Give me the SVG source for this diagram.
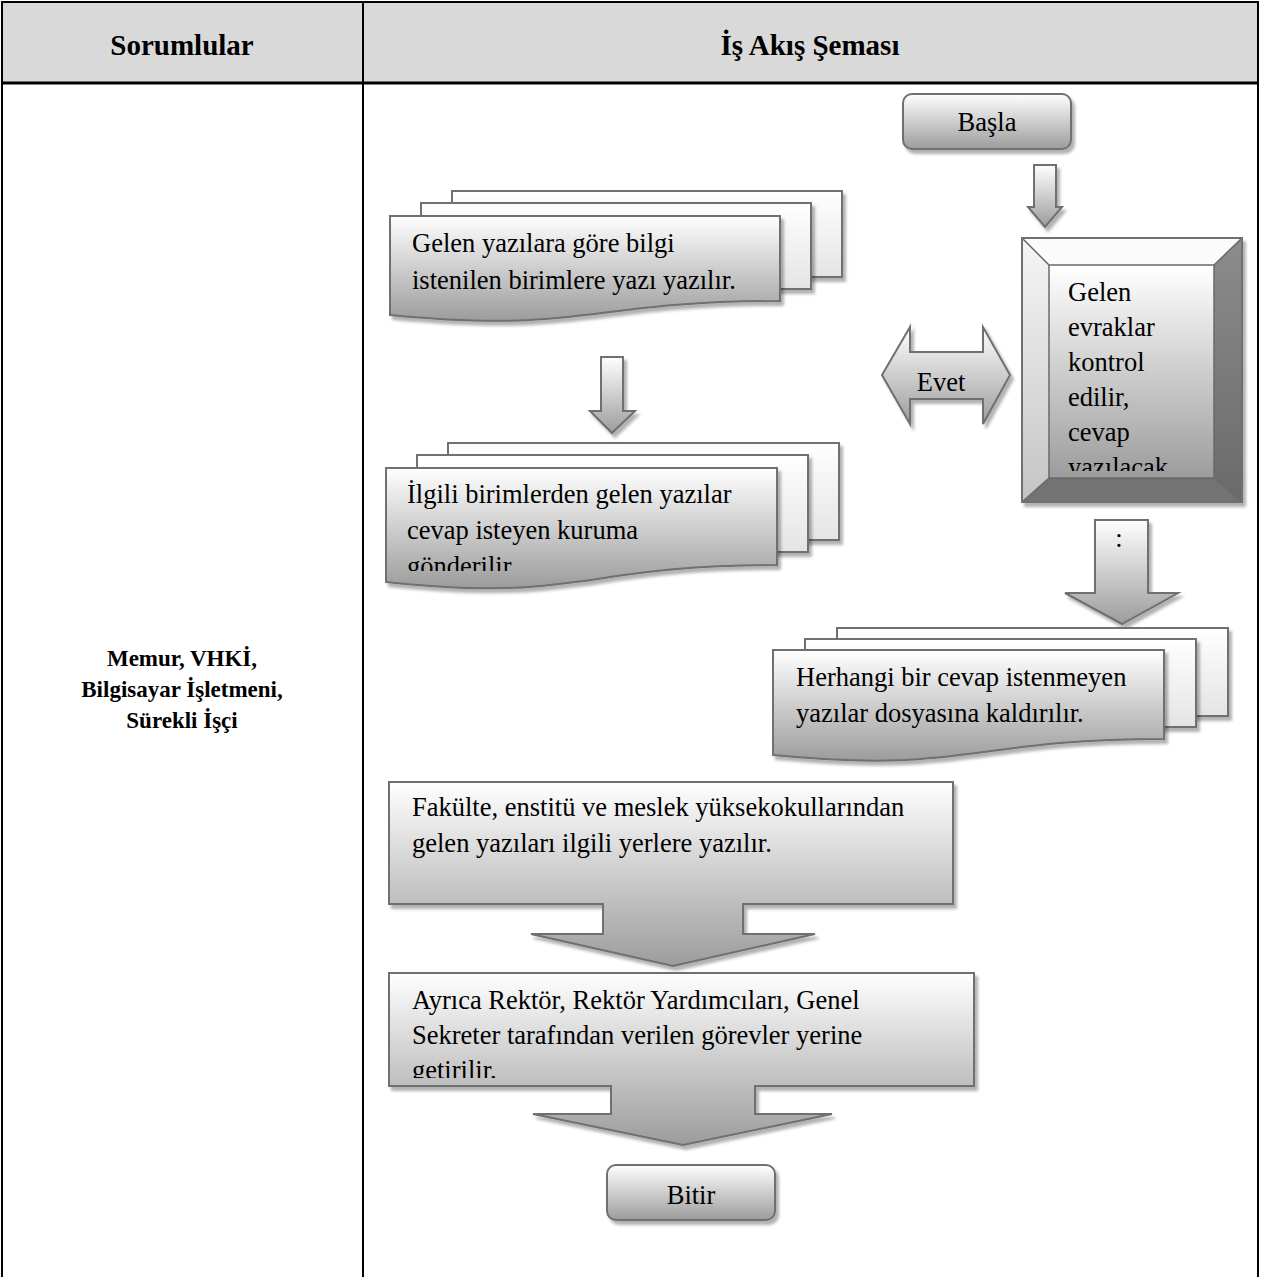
<svg xmlns="http://www.w3.org/2000/svg" width="1261" height="1277" viewBox="0 0 1261 1277">
<defs>
<linearGradient id="gV" x1="0" y1="0" x2="0" y2="1"><stop offset="0" stop-color="#ffffff"/><stop offset="1" stop-color="#9c9c9c"/></linearGradient>
<linearGradient id="gBack" x1="0" y1="0" x2="0" y2="1"><stop offset="0" stop-color="#ffffff"/><stop offset="1" stop-color="#e4e4e4"/></linearGradient>
<linearGradient id="gLeft" x1="0" y1="0" x2="0" y2="1"><stop offset="0" stop-color="#f6f6f6"/><stop offset="1" stop-color="#c4c4c4"/></linearGradient>
<linearGradient id="gRight" x1="0" y1="0" x2="0" y2="1"><stop offset="0" stop-color="#8c8c8c"/><stop offset="1" stop-color="#6a6a6a"/></linearGradient>
<filter id="sh" x="-10%" y="-10%" width="130%" height="130%"><feDropShadow dx="3" dy="4" stdDeviation="1.5" flood-color="#000" flood-opacity="0.3"/></filter>
<clipPath id="cBevel"><rect x="1049" y="265" width="165" height="206"/></clipPath>
<clipPath id="cDoc2"><rect x="386" y="468" width="391" height="103"/></clipPath>
<clipPath id="cAyr"><rect x="389" y="973" width="585" height="105"/></clipPath>
</defs>
<style>
.t{font-family:"Liberation Serif","Times New Roman",serif;font-size:26.5px;fill:#000}
.b{font-family:"Liberation Serif","Times New Roman",serif;font-weight:bold;fill:#000}
.s{stroke:#6f6f6f;stroke-width:2;stroke-linejoin:miter}
.f{fill:url(#gV)}
.bk{fill:url(#gBack)}
.ln{stroke:#000;fill:none}
</style>
<rect x="0" y="0" width="1261" height="1277" fill="#fff"/>
<g id="table">
<rect x="2" y="2" width="1256" height="81" fill="#d9d9d9"/>
<path class="ln" stroke-width="2" d="M2,1277 V2 H1258 V1277 M363,2 V1277"/>
<path class="ln" stroke-width="3" d="M2,83 H1258"/>
<text class="b" x="182" y="55" font-size="29" text-anchor="middle">Sorumlular</text>
<text class="b" x="810" y="55" font-size="29" text-anchor="middle">İş Akış Şeması</text>
<text class="b" x="182" y="666" font-size="23" text-anchor="middle">Memur, VHKİ,</text>
<text class="b" x="182" y="697" font-size="23" text-anchor="middle">Bilgisayar İşletmeni,</text>
<text class="b" x="182" y="728" font-size="23" text-anchor="middle">Sürekli İşçi</text>
</g>
<g id="connectors">
<path class="s f" filter="url(#sh)" d="M1034,165 H1056 V207 H1062 L1045,227 L1028,207 H1034 Z"/>
<path class="s f" filter="url(#sh)" d="M601,357 H623 V411 H635 L612,433 L590,411 H601 Z"/>
<path class="s f" filter="url(#sh)" d="M882,375 L910,327 V352 H983 V327 L1010,375 L983,424 V399 H910 V424 Z"/>
<text class="t" x="941" y="391" text-anchor="middle">Evet</text>
<path class="s f" filter="url(#sh)" d="M1095,520 H1148 V593 H1178 L1122,624 L1065,593 H1095 Z"/>
<text class="t" x="1119" y="547" font-size="14" text-anchor="middle">:</text>
</g>
<g id="start">
<rect class="s f" filter="url(#sh)" x="903" y="94" width="168" height="55" rx="9"/>
<text class="t" x="987" y="131" text-anchor="middle">Başla</text>
</g>
<g id="check">
<g filter="url(#sh)">
<rect x="1022" y="238" width="220" height="264" fill="#ffffff"/>
<path d="M1022,238 H1242 L1214,265 H1049 Z" fill="#fbfbfb"/>
<path d="M1022,238 L1049,265 V478 L1022,502 Z" fill="url(#gLeft)"/>
<path d="M1242,238 L1214,265 V478 L1242,502 Z" fill="url(#gRight)"/>
<path d="M1022,502 L1049,478 H1214 L1242,502 Z" fill="#737373"/>
<rect x="1049" y="265" width="165" height="213" fill="url(#gV)"/>
<path d="M1022,238 L1049,265 M1242,238 L1214,265 M1022,502 L1049,478 M1242,502 L1214,478" stroke="#6a6a6a" stroke-width="1.5"/>
<rect x="1049" y="265" width="165" height="213" fill="none" stroke="#6a6a6a" stroke-width="1.5"/>
<rect class="s" x="1022" y="238" width="220" height="264" fill="none"/>
</g>
<g clip-path="url(#cBevel)">
<text class="t" x="1068" y="301">Gelen</text>
<text class="t" x="1068" y="336">evraklar</text>
<text class="t" x="1068" y="371">kontrol</text>
<text class="t" x="1068" y="406">edilir,</text>
<text class="t" x="1068" y="441">cevap</text>
<text class="t" x="1068" y="476">yazılacak</text>
</g>
</g>
<g id="doc1">
<rect class="s bk" filter="url(#sh)" x="452" y="191" width="390" height="86"/>
<rect class="s bk" filter="url(#sh)" x="421" y="203" width="390" height="86"/>
<path class="s f" filter="url(#sh)" d="M390,216 H780 V301 C585,301 585,334 390,315 Z"/>
<text class="t" x="412" y="252">Gelen yazılara göre bilgi</text>
<text class="t" x="412" y="289">istenilen birimlere yazı yazılır.</text>
</g>
<g id="doc2">
<rect class="s bk" filter="url(#sh)" x="448" y="443" width="391" height="97"/>
<rect class="s bk" filter="url(#sh)" x="417" y="455" width="391" height="97"/>
<path class="s f" filter="url(#sh)" d="M386,468 H777 V565 C581,565 581,603 386,582 Z"/>
<g clip-path="url(#cDoc2)">
<text class="t" x="407" y="503">İlgili birimlerden gelen yazılar</text>
<text class="t" x="407" y="539">cevap isteyen kuruma</text>
<text class="t" x="407" y="575">gönderilir</text>
</g>
</g>
<g id="doc3">
<rect class="s bk" filter="url(#sh)" x="837" y="628" width="391" height="88"/>
<rect class="s bk" filter="url(#sh)" x="805" y="639" width="391" height="88"/>
<path class="s f" filter="url(#sh)" d="M773,650 H1164 V739 C968,739 968,774 773,755 Z"/>
<text class="t" x="796" y="686">Herhangi bir cevap istenmeyen</text>
<text class="t" x="796" y="722">yazılar dosyasına kaldırılır.</text>
</g>
<g id="callout1">
<path class="s f" filter="url(#sh)" d="M389,782 H953 V904 H743 V934 H815 L673,966 L531,934 H603 V904 H389 Z"/>
<text class="t" x="412" y="816">Fakülte, enstitü ve meslek yüksekokullarından</text>
<text class="t" x="412" y="852">gelen yazıları ilgili yerlere yazılır.</text>
</g>
<g id="callout2">
<path class="s f" filter="url(#sh)" d="M389,973 H974 V1086 H755 V1114 H832 L683,1145 L533,1114 H611 V1086 H389 Z"/>
<g clip-path="url(#cAyr)">
<text class="t" x="412" y="1009">Ayrıca Rektör, Rektör Yardımcıları, Genel</text>
<text class="t" x="412" y="1044">Sekreter tarafından verilen görevler yerine</text>
<text class="t" x="412" y="1079">getirilir.</text>
</g>
</g>
<g id="end">
<rect class="s f" filter="url(#sh)" x="607" y="1165" width="168" height="55" rx="9"/>
<text class="t" x="691" y="1204" text-anchor="middle">Bitir</text>
</g>
</svg>
